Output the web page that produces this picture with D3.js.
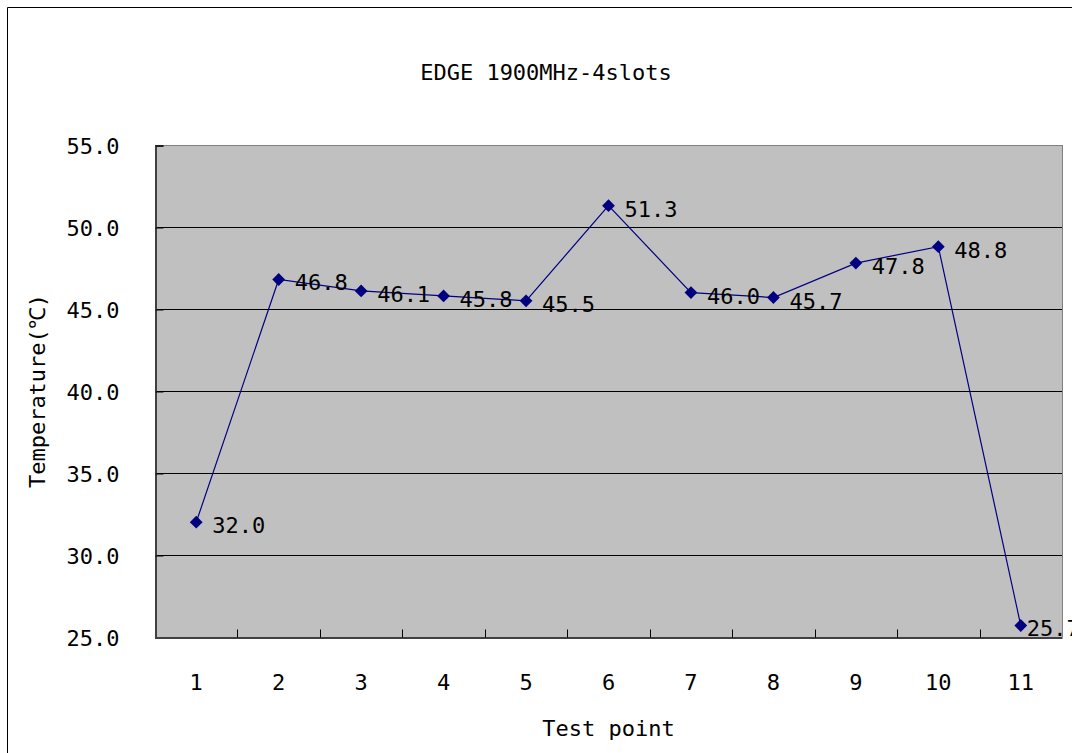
<!DOCTYPE html>
<html>
<head>
<meta charset="utf-8">
<script src="https://cdn.jsdelivr.net/npm/d3@7"></script>
<style>
  html, body { margin: 0; padding: 0; background: #fff; overflow: hidden; }
  svg { display: block; }
  svg text { font-family: "DejaVu Sans Mono", "Liberation Mono", monospace; fill: #000; }
</style>
</head>
<body>
<script>
"use strict";
// chart values
var testPoints = ["1", "2", "3", "4", "5", "6", "7", "8", "9", "10", "11"];
var temperatures = [32.0, 46.8, 46.1, 45.8, 45.5, 51.3, 46.0, 45.7, 47.8, 48.8, 25.7];
var yTicks = [25, 30, 35, 40, 45, 50, 55];
var chartTitle = "EDGE 1900MHz-4slots";
var xTitle = "Test point";
var yTitle = "Temperature(\u2103)";

(function () {
  var width = 1072, height = 753;
  var plot = { left: 155, top: 145, right: 1062, bottom: 637 };

  var svg = d3.select('body').append('svg')
    .attr('width', width)
    .attr('height', height);

  // outer chart frame: only top and left edges fall inside the page
  svg.append('path')
    .attr('d', 'M7.5,' + height + 'V7.5H' + width)
    .attr('fill', 'none').attr('stroke', '#000');

  var xScale = d3.scaleBand()
    .domain(testPoints)
    .range([plot.left, plot.right]);

  var yScale = d3.scaleLinear()
    .domain([25, 55])
    .range([plot.bottom, plot.top]);

  // plot background
  svg.append('rect')
    .attr('x', plot.left).attr('y', plot.top)
    .attr('width', plot.right - plot.left)
    .attr('height', plot.bottom - plot.top)
    .attr('fill', '#c0c0c0');

  // gridlines
  svg.append('g').selectAll('line')
    .data(yTicks.slice(1, -1))
    .enter().append('line')
    .attr('x1', plot.left).attr('x2', plot.right)
    .attr('y1', function (d) { return Math.round(yScale(d)) + 0.5; })
    .attr('y2', function (d) { return Math.round(yScale(d)) + 0.5; })
    .attr('stroke', '#000');

  // plot border top in gray
  svg.append('line')
    .attr('x1', plot.left).attr('x2', plot.right + 0.5)
    .attr('y1', plot.top + 0.5).attr('y2', plot.top + 0.5)
    .attr('stroke', '#808080');

  // y axis
  var yAxis = d3.axisLeft(yScale)
    .tickValues(yTicks)
    .tickSize(-8)
    .tickPadding(36)
    .tickFormat(d3.format('.1f'));

  var yDrawn = svg.append('g')
    .attr('transform', 'translate(' + (plot.left + 0.5) + ',0.5)')
    .call(yAxis);
  yDrawn.select('.domain').attr('stroke', '#404040').attr('stroke-width', 2);
  yDrawn.selectAll('.tick line').attr('stroke', '#000');
  yDrawn.selectAll('.tick text').attr('font-size', 22).attr('dy', '0.36em');

  // x axis, ticks between categories pointing up
  var xAxis = d3.axisBottom(xScale)
    .tickSize(0)
    .tickPadding(37);

  var xDrawn = svg.append('g')
    .attr('transform', 'translate(0,' + (plot.bottom + 0.5) + ')')
    .call(xAxis);
  xDrawn.select('.domain').attr('stroke', '#404040').attr('stroke-width', 2);
  xDrawn.selectAll('.tick text').attr('font-size', 22);

  xDrawn.append('g').selectAll('line')
    .data(testPoints.slice(1))
    .enter().append('line')
    .attr('x1', function (d) { return Math.round(xScale(d)) + 0.5; })
    .attr('x2', function (d) { return Math.round(xScale(d)) + 0.5; })
    .attr('y1', 0).attr('y2', -8)
    .attr('stroke', '#000');

  // line series
  var cx = function (i) { return xScale(testPoints[i]) + xScale.bandwidth() / 2; };
  var line = d3.line()
    .x(function (d, i) { return cx(i); })
    .y(function (d) { return yScale(d); });

  svg.append('path')
    .datum(temperatures)
    .attr('d', line)
    .attr('fill', 'none')
    .attr('stroke', '#000080')
    .attr('stroke-width', 1.2);

  var pts = svg.append('g').selectAll('g')
    .data(temperatures)
    .enter().append('g')
    .attr('transform', function (d, i) {
      return 'translate(' + cx(i) + ',' + yScale(d) + ')';
    });

  pts.append('path')
    .attr('d', d3.symbol().type(d3.symbolSquare).size(82))
    .attr('transform', 'rotate(45)')
    .attr('fill', '#000080');

  // labels sit to the right; the last one is nudged in like the original
  pts.append('text')
    .attr('x', function (d, i) { return i === temperatures.length - 1 ? 6 : 16; })
    .attr('y', function (d, i) { return i === temperatures.length - 1 ? 10 : 11; })
    .attr('font-size', 22)
    .text(function (d) { return d3.format('.1f')(d); });

  // right border drawn over the last label like the original
  svg.append('line')
    .attr('x1', plot.right + 0.5).attr('x2', plot.right + 0.5)
    .attr('y1', plot.top).attr('y2', plot.bottom)
    .attr('stroke', '#808080');

  // titles
  svg.append('text')
    .attr('x', 546).attr('y', 80)
    .attr('text-anchor', 'middle')
    .attr('font-size', 22)
    .text(chartTitle);

  svg.append('text')
    .attr('x', (plot.left + plot.right) / 2).attr('y', 736)
    .attr('text-anchor', 'middle')
    .attr('font-size', 22)
    .text(xTitle);

  svg.append('text')
    .attr('transform', 'translate(45,' + ((plot.top + plot.bottom) / 2) + ') rotate(-90)')
    .attr('text-anchor', 'middle')
    .attr('font-size', 22)
    .text(yTitle);
})();
</script>
</body>
</html>
